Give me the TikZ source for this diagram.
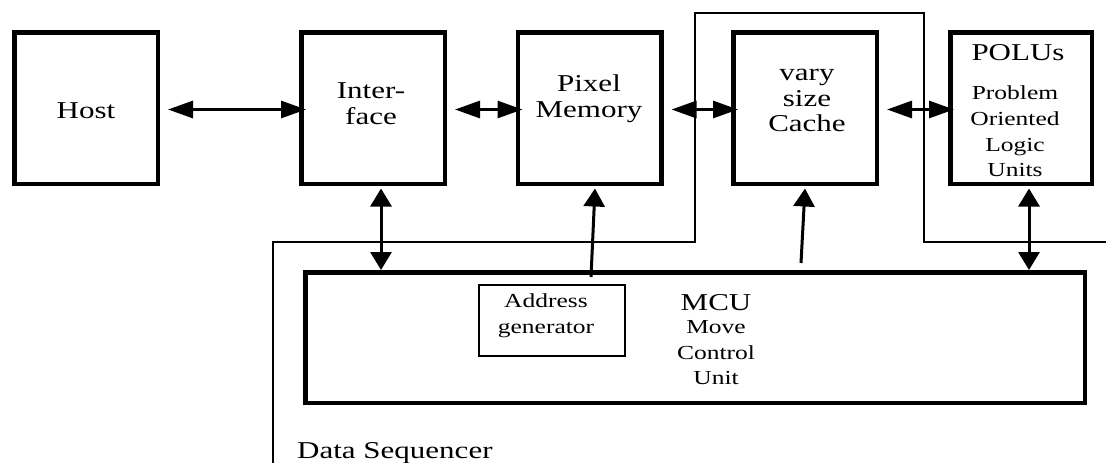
\documentclass[tikz,border=0pt]{standalone}
\usepackage{fontspec}
\setmainfont{Liberation Serif}
\usepackage{graphicx}
\usetikzlibrary{arrows.meta}

% label fonts: large for block names, smaller for descriptions
\newcommand{\bigtext}{\fontsize{31}{33}\selectfont}
\newcommand{\smalltext}{\fontsize{25.5}{33}\selectfont}
% centred lines of text, set slightly flattened
\newcommand{\squash}[1]{\scalebox{1}[0.78]{\begin{tabular}{@{}c@{}}#1\end{tabular}}}

\begin{document}
\begin{tikzpicture}[x=1pt,y=-1pt,
  blk/.style={draw, line width=4.5pt, minimum width=143.5pt, minimum height=151.5pt, inner sep=0pt},
  lbl/.style={inner sep=0pt, font=\bigtext},
  slbl/.style={inner sep=0pt, font=\smalltext},
  link/.style={line width=3pt},
  harr/.style={link, {Triangle[length=25pt,width=17pt]}-{Triangle[length=25pt,width=17pt]}},
  vboth/.style={link, {Triangle[length=18pt,width=21pt]}-{Triangle[length=18pt,width=21pt]}},
  vup/.style={link, -{Triangle[length=18pt,width=21pt]}},
  seq/.style={line width=2.5pt},
]
\useasboundingbox (0,0) rectangle (1106,463);
\fill[white] (0,0) rectangle (1106,463);

% data sequencer boundary
\coordinate (s0) at (273,463);
\coordinate (s1) at (273,242);
\coordinate (s2) at (695,242);
\coordinate (s3) at (695,13);
\coordinate (s4) at (924,13);
\coordinate (s5) at (924,242);
\coordinate (s6) at (1106,242);
\draw[seq] (s0) -- (s1) -- (s2) -- (s3) -- (s4) -- (s5) -- (s6);
\node[lbl, anchor=west] (seqT) at (297,453) {\squash{Data Sequencer}};

% top row of blocks
\node[blk] (host) at (86,108) {};
\node[blk] (iface) at (373,108) {};
\node[blk] (pixmem) at (589.5,108) {};
\node[blk] (cache) at (805,108) {};
\node[blk, minimum width=141.5pt] (polus) at (1021,108) {};

\node[lbl] (hostT) at (86,113) {\squash{Host}};
\node[lbl] (ifaceT) at (371,106) {\squash{Inter-\\face}};
\node[lbl] (pixmemT) at (589,99.5) {\squash{Pixel\\Memory}};
\node[lbl] (cacheT) at (807,101) {\squash{vary\\size\\Cache}};
\node[lbl] (polusT) at (1018,55) {\squash{POLUs}};
\node[slbl] (polusD) at (1015,133) {\squash{Problem\\Oriented\\Logic\\Units}};

% move control unit
\node[draw, line width=4.5pt, minimum width=779.5pt, minimum height=130.5pt] (mcu) at (695,337.5) {};
\node[draw, line width=2pt, minimum width=146pt, minimum height=71pt] (addr) at (552,320.5) {};
\node[slbl] (addrT) at (546,315.5) {\squash{Address\\generator}};
\node[lbl] (mcuT) at (716,305) {\squash{MCU}};
\node[slbl] (mcuD) at (716,354) {\squash{Move\\Control\\Unit}};

% data paths between blocks
\draw[harr] ([xshift=8pt,yshift=-1.5pt]host.east) -- ([xshift=7pt,yshift=-1.5pt]iface.west);
\draw[harr] ([xshift=8pt,yshift=-1.5pt]iface.east) -- ([xshift=7pt,yshift=-1.5pt]pixmem.west);
\draw[harr] ([xshift=8pt,yshift=-1.5pt]pixmem.east) -- ([xshift=7pt,yshift=-1.5pt]cache.west);
\draw[harr] ([xshift=8pt,yshift=-1.5pt]cache.east) -- ([xshift=6pt,yshift=-1.5pt]polus.west);

% control paths from the MCU
\draw[vboth] ([xshift=8pt,yshift=-2.5pt]iface.south) -- ([xshift=8pt]iface.south |- mcu.north);
\coordinate (pxfoot) at (591,277);
\draw[vup] (pxfoot) -- ([xshift=5.5pt,yshift=-2.5pt]pixmem.south);
\coordinate (cafoot) at (801,263);
\draw[vup] (cafoot) -- ([yshift=-2.5pt]cache.south);
\draw[vboth] ([xshift=8pt,yshift=-2.5pt]polus.south) -- ([xshift=8pt]polus.south |- mcu.north);
\end{tikzpicture}
\end{document}
